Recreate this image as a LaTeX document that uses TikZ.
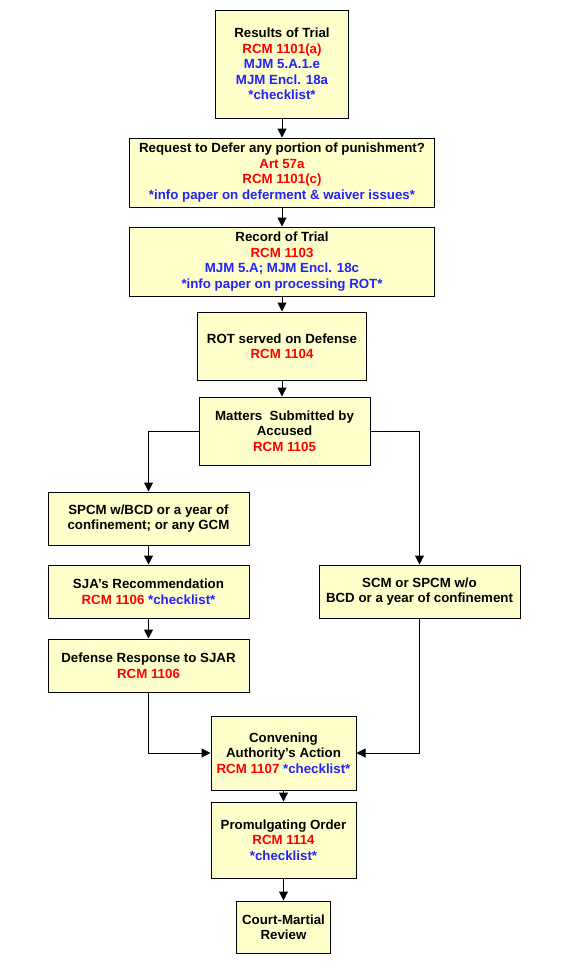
\documentclass[tikz,border=0pt]{standalone}
\usepackage{fontspec}
\setmainfont{Liberation Sans}[Ligatures=ResetAll]
\usetikzlibrary{arrows.meta}
\definecolor{boxfill}{HTML}{FFFFCC}
\definecolor{refred}{HTML}{FF0000}
\definecolor{refblue}{HTML}{2222FF}
\newcommand{\rd}[1]{\textcolor{refred}{#1}}
\newcommand{\bl}[1]{\textcolor{refblue}{#1}}
\begin{document}
\begin{tikzpicture}[x=1pt,y=-1pt,
  stepbox/.style={draw=black,line width=1pt,fill=boxfill,align=center,inner sep=0pt,
    font=\fontsize{13.3}{15.5}\selectfont\bfseries},
  conn/.style={line width=1pt,-{Triangle[length=9pt,width=9pt]}}]
\useasboundingbox (0,0) rectangle (564,962);
\fill[white] (0,0) rectangle (564,962);
\node[stepbox,minimum width=133pt,minimum height=108pt] (res) at (282,64)
  {Results of Trial\\\rd{RCM 1101(a)}\\\bl{MJM 5.A.1.e}\\\bl{MJM Encl. 18a}\\\bl{*checklist*}};
\node[stepbox,minimum width=305pt,minimum height=69pt] (req) at (282,172.5)
  {Request to Defer any portion of punishment?\\\rd{Art 57a}\\\rd{RCM 1101(c)}\\\bl{*info paper on deferment \& waiver issues*}};
\node[stepbox,minimum width=305pt,minimum height=69pt] (rec) at (282,261.5)
  {Record of Trial\\\rd{RCM 1103}\\\bl{MJM 5.A; MJM Encl. 18c}\\\bl{*info paper on processing ROT*}};
\node[stepbox,minimum width=169pt,minimum height=68pt] (rot) at (282,346)
  {ROT served on Defense\\\rd{RCM 1104}};
\node[stepbox,minimum width=171pt,minimum height=68pt] (mat) at (284.5,431)
  {Matters~~Submitted by\\Accused\\\rd{RCM 1105}};
\node[stepbox,minimum width=201pt,minimum height=53pt] (spcm) at (148.5,518.5)
  {SPCM w/BCD or a year of\\confinement; or any GCM};
\node[stepbox,minimum width=201pt,minimum height=53pt] (sja) at (148.5,591.5)
  {SJA's Recommendation\\\rd{RCM 1106} \bl{*checklist*}};
\node[stepbox,minimum width=201pt,minimum height=53pt] (def) at (148.5,665.5)
  {Defense Response to SJAR\\\rd{RCM 1106}};
\node[stepbox,minimum width=201pt,minimum height=53pt] (scm) at (419.5,591.5)
  {SCM or SPCM w/o\\BCD or a year of confinement};
\node[stepbox,minimum width=145pt,minimum height=74pt] (conv) at (283.5,753)
  {Convening\\Authority's Action\\\rd{RCM 1107} \bl{*checklist*}};
\node[stepbox,minimum width=145pt,minimum height=76pt] (prom) at (283.5,840)
  {Promulgating Order\\\rd{RCM 1114}\\\bl{*checklist*}};
\node[stepbox,minimum width=94pt,minimum height=52pt] (cmr) at (283.5,927)
  {Court-Martial\\Review};
\draw[conn] (res) -- (req);
\draw[conn] (req) -- (rec);
\draw[conn] (rec.south) -- (rec.south |- rot.north);
\draw[conn] (rot.south) -- (rot.south |- mat.north);
\draw[conn] (mat.west) -| (spcm.north);
\draw[conn] (mat.east) -| (scm.north);
\draw[conn] (spcm) -- (sja);
\draw[conn] (sja) -- (def);
\draw[conn] (def.south) |- (conv.west);
\draw[conn] (scm.south) |- (conv.east);
\draw[conn] (conv) -- (prom);
\draw[conn] (prom) -- (cmr);
\end{tikzpicture}
\end{document}
